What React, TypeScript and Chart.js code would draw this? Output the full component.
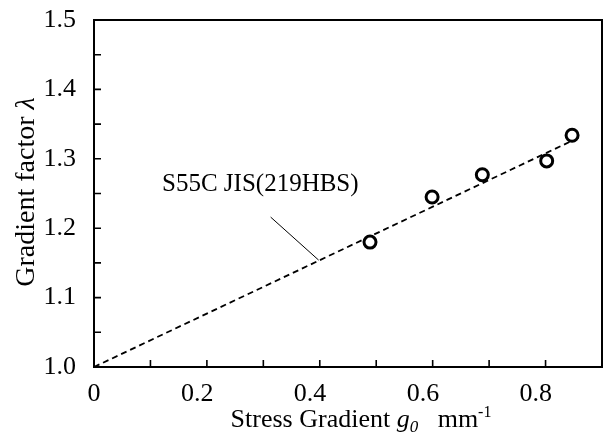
import React, { useEffect, useRef } from 'react';
import { Chart, registerables } from 'chart.js';

Chart.register(...registerables);

// Measured points
const gradientX = [0.489, 0.599, 0.688, 0.802, 0.847];
const factorY = [1.18, 1.245, 1.277, 1.297, 1.334];

// Fitted line
const fitX = [0, 0.86];
const fitY = [1.0, 1.331];

// Leader line for annotation
const leaderX = [0.313, 0.398];
const leaderY = [1.216, 1.154];

const annotationText = 'S55C JIS(219HBS)';
const annotationAt = [0.1205, 1.2536];

const xTickValues = [0, 0.2, 0.4, 0.6, 0.8];
const xTickLabels = ['0', '0.2', '0.4', '0.6', '0.8'];
const xMinorValues = [0.1, 0.3, 0.5, 0.7];
const yTickValues = [1.0, 1.1, 1.2, 1.3, 1.4, 1.5];
const yTickLabels = ['1.0', '1.1', '1.2', '1.3', '1.4', '1.5'];
const yMinorValues = [1.05, 1.15, 1.25, 1.35, 1.45];

const FONT = "'Liberation Serif', 'Times New Roman', serif";

type Seg = { t: string; font: string; dy: number };

function drawSegs(ctx: CanvasRenderingContext2D, segs: Seg[], x: number, y: number) {
  let cx = x;
  for (const s of segs) {
    ctx.font = s.font;
    ctx.fillText(s.t, cx, y + s.dy);
    cx += ctx.measureText(s.t).width;
  }
}
function segWidth(ctx: CanvasRenderingContext2D, segs: Seg[]) {
  let w = 0;
  for (const s of segs) {
    ctx.font = s.font;
    w += ctx.measureText(s.t).width;
  }
  return w;
}

const decorPlugin = {
  id: 'decor',
  afterDraw(chart: any) {
    const { ctx, chartArea } = chart;
    const xs = chart.scales.x;
    const ys = chart.scales.y;
    ctx.save();
    ctx.strokeStyle = '#000';
    ctx.fillStyle = '#000';
    // frame
    ctx.lineWidth = 2;
    ctx.strokeRect(chartArea.left, chartArea.top, chartArea.right - chartArea.left, chartArea.bottom - chartArea.top);
    // ticks
    ctx.lineWidth = 1.6;
    const tl = 7;
    ctx.beginPath();
    [...xTickValues, ...xMinorValues].forEach((v) => {
      const px = xs.getPixelForValue(v);
      ctx.moveTo(px, chartArea.bottom);
      ctx.lineTo(px, chartArea.bottom - tl);
    });
    [...yTickValues, ...yMinorValues].forEach((v) => {
      const py = ys.getPixelForValue(v);
      ctx.moveTo(chartArea.left, py);
      ctx.lineTo(chartArea.left + tl, py);
    });
    ctx.stroke();

    // annotation text
    ctx.font = `25px ${FONT}`;
    ctx.textBaseline = 'alphabetic';
    ctx.textAlign = 'left';
    ctx.fillText(annotationText, xs.getPixelForValue(annotationAt[0]), ys.getPixelForValue(annotationAt[1]));

    // x title
    const xSegs: Seg[] = [
      { t: 'Stress Gradient ', font: `26px ${FONT}`, dy: 0 },
      { t: 'g', font: `italic 26px ${FONT}`, dy: 0 },
      { t: '0', font: `italic 17px ${FONT}`, dy: 5 },
      { t: '   mm', font: `26px ${FONT}`, dy: 0 },
      { t: '-1', font: `16px ${FONT}`, dy: -10 },
    ];
    const xw = segWidth(ctx, xSegs);
    const xc = (chartArea.left + chartArea.right) / 2 + 13;
    drawSegs(ctx, xSegs, xc - xw / 2, 427);

    // y title
    const ySegs: Seg[] = [
      { t: 'Gradient factor ', font: `28px ${FONT}`, dy: 0 },
      { t: 'λ', font: `italic 28px ${FONT}`, dy: 0 },
    ];
    const yw = segWidth(ctx, ySegs);
    ctx.translate(34, 192);
    ctx.rotate(-Math.PI / 2);
    drawSegs(ctx, ySegs, -yw / 2, 0);
    ctx.restore();
  },
};

export default function App() {
  const ref = useRef<HTMLCanvasElement | null>(null);
  useEffect(() => {
    if (!ref.current) return;
    const chart = new Chart(ref.current, {
      type: 'scatter',
      data: {
        datasets: [
          {
            type: 'scatter',
            data: gradientX.map((x, i) => ({ x, y: factorY[i] })),
            pointStyle: 'circle',
            pointRadius: 6,
            pointBorderWidth: 3,
            pointBackgroundColor: '#fff',
            pointBorderColor: '#000',
            order: 0,
          },
          {
            type: 'line',
            data: fitX.map((x, i) => ({ x, y: fitY[i] })),
            borderColor: '#000',
            borderWidth: 1.8,
            borderDash: [6, 4],
            pointRadius: 0,
            fill: false,
            order: 1,
          },
          {
            type: 'line',
            data: leaderX.map((x, i) => ({ x, y: leaderY[i] })),
            borderColor: '#000',
            borderWidth: 1,
            pointRadius: 0,
            fill: false,
            order: 2,
          },
        ],
      } as any,
      options: {
        animation: false,
        responsive: true,
        maintainAspectRatio: false,
        layout: { padding: { top: 20, right: 3, left: 0, bottom: 0 } },
        plugins: { legend: { display: false }, tooltip: { enabled: false } },
        scales: {
          x: {
            type: 'linear',
            min: 0,
            max: 0.9,
            grid: { display: false },
            border: { display: false },
            afterBuildTicks: (s: any) => {
              s.ticks = xTickValues.map((v) => ({ value: v }));
            },
            afterFit: (s: any) => {
              s.height = 71;
              s.paddingLeft = 0;
              s.paddingRight = 0;
            },
            ticks: {
              color: '#000',
              font: { family: FONT, size: 26 },
              padding: 4,
              maxRotation: 0,
              callback: (v: any) => {
                const i = xTickValues.findIndex((t) => Math.abs(t - v) < 1e-9);
                if (i < 0) return '';
                // decimal labels sit slightly left of their tick in the original
                return i === 0 ? xTickLabels[i] : xTickLabels[i] + '   ';
              },
            },
          },
          y: {
            type: 'linear',
            min: 1.0,
            max: 1.5,
            grid: { display: false },
            border: { display: false },
            afterBuildTicks: (s: any) => {
              s.ticks = yTickValues.map((v) => ({ value: v }));
            },
            afterFit: (s: any) => {
              s.width = 94;
              s.paddingTop = 0;
              s.paddingBottom = 0;
            },
            ticks: {
              color: '#000',
              font: { family: FONT, size: 26 },
              padding: 10,
              callback: (v: any) => {
                const i = yTickValues.findIndex((t) => Math.abs(t - v) < 1e-9);
                return i >= 0 ? yTickLabels[i] : '';
              },
            },
          },
        },
      } as any,
      plugins: [decorPlugin],
    });
    return () => chart.destroy();
  }, []);
  return (
    <div style={{ position: 'fixed', left: 0, top: 0, width: 611, height: 438, background: '#fff' }}>
      <canvas ref={ref} />
    </div>
  );
}
